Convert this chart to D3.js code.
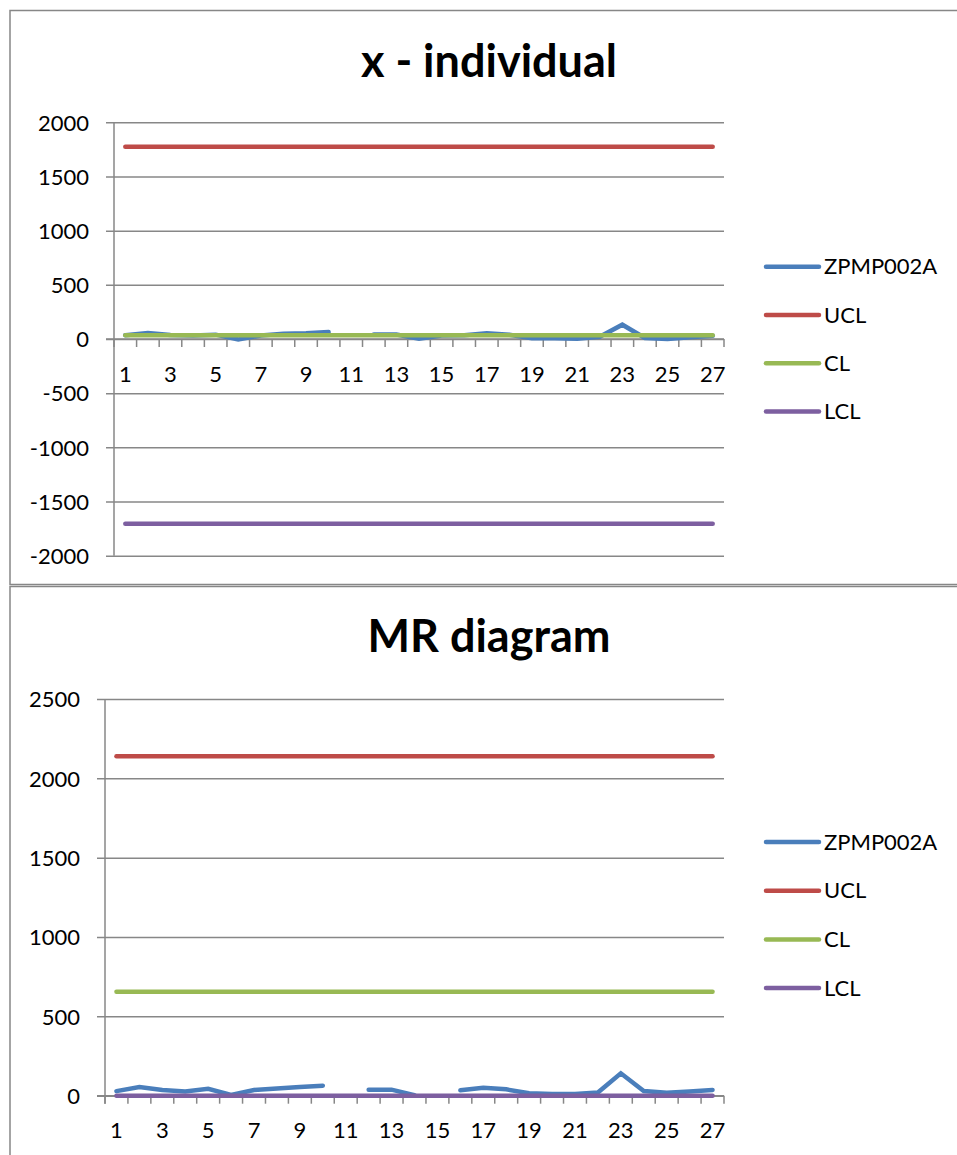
<!DOCTYPE html>
<html>
<head>
<meta charset="utf-8">
<script src="https://cdnjs.cloudflare.com/ajax/libs/d3/7.8.5/d3.min.js"></script>
<style>
  html, body { margin: 0; padding: 0; background: #fff; }
  svg { display: block; }
  text { font-family: Lato, "Open Sans", sans-serif; fill: #000; }
</style>
</head>
<body>
<svg id="chart" width="957" height="1155"></svg>
<script>
// Sample numbers 1..27
const categories = d3.range(1, 28);
const seriesNames = ["ZPMP002A", "UCL", "CL", "LCL"];

// Individual values (null = no reading)
const individualValues = [35, 55, 38, 33, 40, -5, 33, 48, 52, 64, null, 42, 42, 3, 33, 35, 52, 40, 8, 6, 2, 20, 132, 10, 0, 15, 30];
const individualUCL = 1775;
const individualCL = 35;
const individualLCL = -1705;
const individualTicks = [-2000, -1500, -1000, -500, 0, 500, 1000, 1500, 2000];

// Moving ranges (null = no value)
const movingRangeValues = [29, 55, 36, 27, 44, 5, 36, 46, 55, 63, null, 38, 38, 3, null, 34, 50, 40, 15, 10, 10, 20, 141, 29, 19, 27, 36];
const movingRangeUCL = 2140;
const movingRangeCL = 655;
const movingRangeLCL = 0;
const movingRangeTicks = [0, 500, 1000, 1500, 2000, 2500];

const colors = { ZPMP002A: "#4a7ebb", UCL: "#be4b48", CL: "#98b954", LCL: "#7d5fa0" };
const gridColor = "#878787";

const svg = d3.select("#chart");
svg.append("rect").attr("width", 957).attr("height", 1155).attr("fill", "#fff");

function drawChart(cfg) {
  const g = svg.append("g");

  // chart frame
  g.append("rect")
    .attr("x", cfg.frame.x).attr("y", cfg.frame.y)
    .attr("width", cfg.frame.w).attr("height", cfg.frame.h)
    .attr("fill", "none").attr("stroke", gridColor).attr("stroke-width", 1.5);

  // title
  g.append("text")
    .attr("x", cfg.titleX).attr("y", cfg.titleY)
    .attr("text-anchor", "middle")
    .style("font-weight", "bold").style("font-size", "45px")
    .text(cfg.title);

  const x = d3.scaleBand().domain(categories).range([cfg.left, cfg.right]).padding(0);
  const y = d3.scaleLinear().domain(cfg.domain).range([cfg.bottom, cfg.top]);
  const cx = d => x(d) + x.bandwidth() / 2;

  // horizontal gridlines with left tick marks
  const yAxis = d3.axisLeft(y).tickValues(cfg.ticks).tickSize(-(cfg.right - cfg.left + 8)).tickPadding(0).tickFormat(d => String(d));
  const ya = g.append("g").attr("transform", `translate(${cfg.left - 8},0)`).call(yAxis);
  ya.select(".domain").remove();
  ya.selectAll(".tick line").attr("stroke", gridColor).attr("stroke-width", 1.5).attr("x1", 0).attr("x2", cfg.right - cfg.left + 8);
  ya.selectAll(".tick text")
    .attr("x", cfg.labelRight - (cfg.left - 8)).attr("dy", "0.35em")
    .attr("text-anchor", "end").style("font-size", "22px").style("font-family", "Lato, sans-serif").attr("fill", "#000");

  // vertical value axis line
  g.append("line")
    .attr("x1", cfg.left).attr("x2", cfg.left)
    .attr("y1", cfg.top).attr("y2", cfg.bottom + (cfg.domain[0] === 0 ? 8 : 0))
    .attr("stroke", gridColor).attr("stroke-width", 1.5);

  // category axis at value 0, ticks between categories
  const y0 = y(0);
  g.append("line")
    .attr("x1", cfg.left - 8).attr("x2", cfg.right)
    .attr("y1", y0).attr("y2", y0)
    .attr("stroke", gridColor).attr("stroke-width", 1.5);
  const boundaries = d3.range(0, categories.length + 1).map(i => cfg.left + i * x.bandwidth());
  g.selectAll(".ctick").data(boundaries).join("line")
    .attr("x1", d => d).attr("x2", d => d)
    .attr("y1", y0).attr("y2", y0 + 8)
    .attr("stroke", gridColor).attr("stroke-width", 1.5);
  g.selectAll(".clabel").data(categories.filter(c => c % 2 === 1)).join("text")
    .attr("x", d => cx(d)).attr("y", y0 + 35).attr("dy", "0.35em")
    .attr("text-anchor", "middle").style("font-size", "22px")
    .text(d => d);

  // series: data line first, control lines on top
  const line = d3.line().defined(d => d.v !== null).x(d => cx(d.c)).y(d => y(d.v));
  const series = [
    { name: "ZPMP002A", values: cfg.values },
    { name: "UCL", values: categories.map(() => cfg.ucl) },
    { name: "CL", values: categories.map(() => cfg.cl) },
    { name: "LCL", values: categories.map(() => cfg.lcl) }
  ];
  series.forEach(s => {
    g.append("path")
      .datum(categories.map((c, i) => ({ c, v: s.values[i] })))
      .attr("d", line)
      .attr("fill", "none")
      .attr("stroke", colors[s.name])
      .attr("stroke-width", 4.5)
      .attr("stroke-linecap", "round")
      .attr("stroke-linejoin", "miter");
  });

  // legend
  const lg = g.append("g");
  seriesNames.forEach((name, i) => {
    const ly = cfg.legendY + i * cfg.legendStep;
    lg.append("line")
      .attr("x1", 766).attr("x2", 819).attr("y1", ly).attr("y2", ly)
      .attr("stroke", colors[name]).attr("stroke-width", 4.5).attr("stroke-linecap", "round");
    lg.append("text")
      .attr("x", 824).attr("y", ly).attr("dy", "0.35em")
      .style("font-size", "22px")
      .text(name);
  });
}

drawChart({
  frame: { x: 10, y: 10.5, w: 960, h: 574 },
  title: "x - individual", titleX: 489, titleY: 77,
  left: 114, right: 724, top: 122.3, bottom: 555.7,
  domain: [-2000, 2000], ticks: individualTicks, labelRight: 89,
  values: individualValues, ucl: individualUCL, cl: individualCL, lcl: individualLCL,
  legendY: 266.7, legendStep: 48.3
});

drawChart({
  frame: { x: 10, y: 586.5, w: 960, h: 600 },
  title: "MR diagram", titleX: 489, titleY: 652,
  left: 105, right: 724, top: 699, bottom: 1095.7,
  domain: [0, 2500], ticks: movingRangeTicks, labelRight: 80,
  values: movingRangeValues, ucl: movingRangeUCL, cl: movingRangeCL, lcl: movingRangeLCL,
  legendY: 842, legendStep: 48.7
});
</script>
</body>
</html>
